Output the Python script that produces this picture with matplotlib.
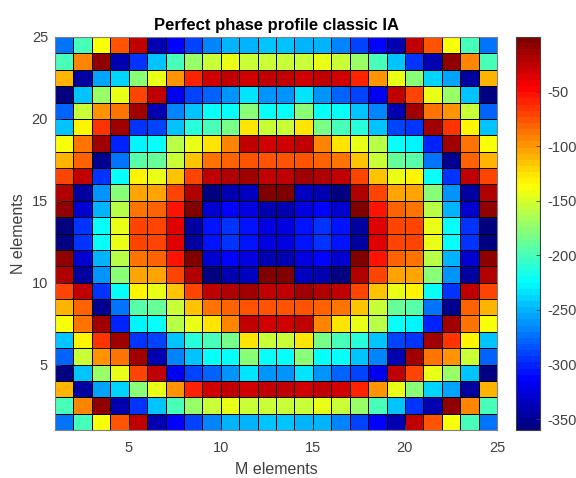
#!/usr/bin/env python3
"""Perfect phase profile of the classic IA, drawn like a MATLAB pcolor."""

import matplotlib

matplotlib.use("Agg")
import matplotlib.pyplot as plt
import numpy as np
from matplotlib.colors import LinearSegmentedColormap

plt.rcParams["font.family"] = ["Liberation Sans", "DejaVu Sans"]

m_nodes = np.arange(1, 26)
n_nodes = np.arange(1, 26)
x_ticks = [5, 10, 15, 20, 25]
y_ticks = [5, 10, 15, 20, 25]
cbar_ticks = [-50, -100, -150, -200, -250, -300, -350]

# phase in degrees, top-left quadrant, top row first.
# The picture mirrors exactly left/right and top/bottom.
quadrant = [
    [-274, -198, -138, -76, -27, -342, -315, -292, -270, -252, -252, -247],
    [-198, -94, -9, -342, -297, -247, -202, -171, -153, -141, -153, -155],
    [-110, -346, -256, -237, -180, -144, -99, -58, -32, -27, -29, -27],
    [-355, -243, -171, -141, -68, -27, -320, -292, -277, -261, -234, -261],
    [-277, -157, -97, -85, -13, -342, -265, -243, -225, -220, -180, -225],
    [-243, -135, -63, -16, -297, -291, -245, -213, -198, -182, -128, -157],
    [-139, -85, -12, -301, -230, -225, -162, -144, -129, -94, -27, -32],
    [-108, -83, -351, -273, -193, -187, -153, -113, -90, -83, -75, -78],
    [-69, -27, -297, -220, -135, -144, -117, -68, -27, -20, -13, -27],
    [-22, -346, -261, -176, -104, -106, -72, -20, -355, -342, -333, -1],
    [-9, -328, -250, -162, -90, -84, -54, -4, -328, -315, -324, -342],
    [-359, -297, -225, -141, -68, -69, -36, -346, -308, -297, -308, -324],
]


def full_matrix(quad):
    top = np.hstack([quad, np.fliplr(quad)])
    return np.vstack([top, np.flipud(top)])[::-1]  # row 0 is N = 1


def matlab_jet():
    # matplotlib's jet has its knots in slightly different places
    knots = [(0, (0, 0, 0.5)), (1 / 8, (0, 0, 1)), (3 / 8, (0, 1, 1)),
             (5 / 8, (1, 1, 0)), (7 / 8, (1, 0, 0)), (1, (0.5, 0, 0))]
    return LinearSegmentedColormap.from_list("matlab_jet", knots, N=64)


def main():
    phase = full_matrix(np.array(quadrant, dtype=float))

    W, H = 576, 478
    fig = plt.figure(figsize=(W / 100, H / 100), dpi=100)
    ax = fig.add_axes([55 / W, 1 - 430 / H, 442 / W, 393 / H])
    mesh = ax.pcolormesh(m_nodes, n_nodes, phase, cmap=matlab_jet(), vmin=-360, vmax=0,
                         edgecolors="black", linewidth=0.72)

    ax.set_xlim(1, 25)
    ax.set_ylim(1, 25)
    ax.set_xticks(x_ticks)
    ax.set_yticks(y_ticks)
    ax.tick_params(axis="x", direction="in", length=4, width=0.6, labelsize=10.5, colors="#404040", pad=8)
    ax.tick_params(axis="y", direction="in", length=4, width=0.6, labelsize=10.5, colors="#404040", pad=5)
    for spine in ax.spines.values():
        spine.set_color("#808080")
        spine.set_linewidth(0.8)
    ax.set_xlabel("M elements", fontsize=11.5, color="#404040", labelpad=5)
    ax.set_ylabel("N elements", fontsize=11.5, color="#404040", labelpad=4)
    ax.set_title("Perfect phase profile classic IA", fontsize=12, fontweight="bold", pad=5)

    cax = fig.add_axes([516 / W, 1 - 430 / H, 24 / W, 393 / H])
    cbar = fig.colorbar(mesh, cax=cax, ticks=cbar_ticks)
    cbar.ax.tick_params(direction="in", length=3, width=0.6, labelsize=10.5, colors="#404040", pad=5)
    cbar.outline.set_edgecolor("#404040")
    cbar.outline.set_linewidth(0.8)
    # matplotlib would use a unicode minus, the original has a plain hyphen
    cbar.ax.set_yticklabels([str(t) for t in cbar_ticks])

    fig.savefig("out.png", dpi=100)


if __name__ == "__main__":
    main()
